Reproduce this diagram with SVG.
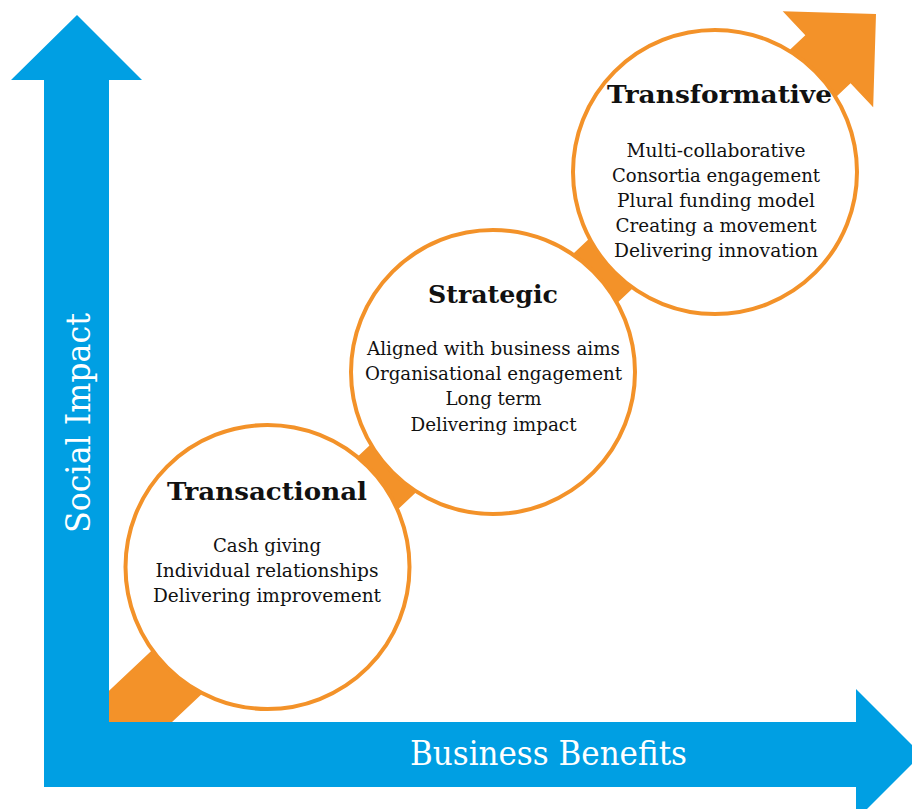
<svg xmlns="http://www.w3.org/2000/svg" width="912" height="809" viewBox="0 0 912 809">
<style>
.bg{fill:#ffffff}
.axis{fill:#009FE3}
.band{fill:#F39229}
.node circle{fill:#ffffff;stroke:#F39229;stroke-width:4}
text{font-family:"DejaVu Serif","Liberation Serif",serif;text-anchor:middle;fill:#111111}
.title{font-size:23.5px;font-weight:bold}
.body{font-size:18.5px}
.axislabel{font-size:33px;fill:#ffffff}
</style>
<rect class="bg" x="0" y="0" width="912" height="809"/>
<g id="connectors">
<g transform="translate(876,14) rotate(-43.27)">
<polygon class="band" points="-1066,-33 -66,-33 -66,-66 0,0 -66,66 -66,33 -1066,33"/>
</g>
</g>
<g id="axes">
<polygon class="axis" points="44,787 44,80 11,80 77,15 142,80 109,80 109,722 856,722 856,689 921.5,754.5 856,820 856,787"/>
<text class="axislabel" transform="translate(90,423) rotate(-90)" textLength="220" lengthAdjust="spacingAndGlyphs">Social Impact</text>
<text class="axislabel" x="548.5" y="765" textLength="277" lengthAdjust="spacingAndGlyphs">Business Benefits</text>
</g>
<g id="node-transactional" class="node">
<circle cx="267.5" cy="567" r="142"/>
<text class="title" x="267" y="500" textLength="200" lengthAdjust="spacingAndGlyphs">Transactional</text>
<text class="body" x="267" y="552" textLength="108" lengthAdjust="spacingAndGlyphs">Cash giving</text>
<text class="body" x="267" y="577" textLength="223" lengthAdjust="spacingAndGlyphs">Individual relationships</text>
<text class="body" x="267" y="602" textLength="228" lengthAdjust="spacingAndGlyphs">Delivering improvement</text>
</g>
<g id="node-strategic" class="node">
<circle cx="493" cy="372" r="142"/>
<text class="title" x="493" y="303" textLength="130" lengthAdjust="spacingAndGlyphs">Strategic</text>
<text class="body" x="493.5" y="355" textLength="253" lengthAdjust="spacingAndGlyphs">Aligned with business aims</text>
<text class="body" x="493.5" y="380" textLength="257" lengthAdjust="spacingAndGlyphs">Organisational engagement</text>
<text class="body" x="493.5" y="405" textLength="96" lengthAdjust="spacingAndGlyphs">Long term</text>
<text class="body" x="493.5" y="431" textLength="166" lengthAdjust="spacingAndGlyphs">Delivering impact</text>
</g>
<g id="node-transformative" class="node">
<circle cx="715" cy="172" r="142"/>
<text class="title" x="719.5" y="103" textLength="225" lengthAdjust="spacingAndGlyphs">Transformative</text>
<text class="body" x="716" y="157" textLength="179" lengthAdjust="spacingAndGlyphs">Multi-collaborative</text>
<text class="body" x="716" y="182" textLength="208" lengthAdjust="spacingAndGlyphs">Consortia engagement</text>
<text class="body" x="716" y="207" textLength="198" lengthAdjust="spacingAndGlyphs">Plural funding model</text>
<text class="body" x="716" y="232" textLength="201" lengthAdjust="spacingAndGlyphs">Creating a movement</text>
<text class="body" x="716" y="257" textLength="204" lengthAdjust="spacingAndGlyphs">Delivering innovation</text>
</g>
</svg>
